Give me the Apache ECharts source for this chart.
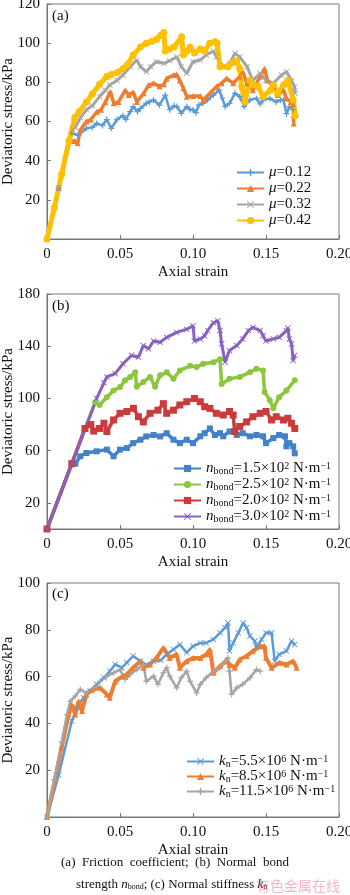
<!DOCTYPE html>
<html>
<head>
<meta charset="utf-8">
<script src="https://cdn.jsdelivr.net/npm/echarts@6.0.0/dist/echarts.min.js"></script>
<style>
html,body{margin:0;padding:0;background:#fff;}
#main{width:350px;height:895px;}
</style>
</head>
<body>
<div id="main"></div>
<script>
// (a) friction coefficient, [axial strain, deviatoric stress kPa]
var muNames = ['μ=0.12', 'μ=0.22', 'μ=0.32', 'μ=0.42'];
var mu012 = [[0,0],[0.008,26],[0.017,54],[0.0216,53],[0.027,56.5],[0.031,57],[0.034,59],[0.038,58],[0.041,61],[0.044,56.5],[0.048,61],[0.052,63],[0.054,61],[0.057,65],[0.059,67.6],[0.062,65],[0.064,66.7],[0.068,69.3],[0.070,70],[0.073,71],[0.077,68.4],[0.081,73.5],[0.084,66],[0.087,68],[0.089,67.6],[0.092,64.2],[0.0957,67.6],[0.098,66],[0.100,66],[0.102,64.5],[0.104,68.4],[0.107,69.3],[0.110,71],[0.114,73.5],[0.118,76],[0.120,72],[0.122,67.6],[0.125,69.3],[0.1287,74.4],[0.132,72.7],[0.135,67.6],[0.139,71],[0.1435,71.8],[0.146,69],[0.148,71],[0.1526,71.8],[0.157,70],[0.160,71],[0.162,71],[0.164,64],[0.166,67.6],[0.1686,66],[0.169,62]];
var mu022 = [[0,0],[0.008,26],[0.0155,50],[0.019,50],[0.021,49],[0.0228,55.7],[0.027,60],[0.030,61],[0.0342,65],[0.037,66],[0.040,70],[0.0434,75.2],[0.0457,69.3],[0.049,70],[0.0536,76],[0.056,73.5],[0.059,75],[0.0616,70],[0.0662,74.4],[0.0697,78.6],[0.073,79.5],[0.077,78],[0.080,79],[0.082,82],[0.0868,83.7],[0.0888,84],[0.091,81],[0.0934,77],[0.0957,72.7],[0.100,73],[0.105,73],[0.107,71],[0.1116,74.4],[0.116,77.8],[0.1196,79.5],[0.123,82],[0.1276,79.5],[0.132,83],[0.134,85.4],[0.137,79.5],[0.141,76],[0.146,83],[0.149,87],[0.151,81],[0.155,77.8],[0.158,73.5],[0.162,76],[0.164,71.8],[0.167,70],[0.1685,69],[0.169,59]];
var mu032 = [[0,0],[0.008,26],[0.0175,56],[0.0194,57],[0.023,62],[0.027,66],[0.031,68],[0.036,72.7],[0.040,76],[0.043,78.6],[0.048,81],[0.052,83.7],[0.057,88],[0.0615,91.4],[0.064,88],[0.068,85.4],[0.071,88],[0.075,90.5],[0.080,89.7],[0.084,91],[0.089,93],[0.092,88],[0.0957,84.6],[0.100,90.5],[0.105,91.4],[0.109,94],[0.114,96],[0.116,93],[0.121,88],[0.125,89.7],[0.1288,94.8],[0.132,93],[0.137,88],[0.141,81],[0.146,84.6],[0.150,81],[0.155,79.5],[0.1606,83.7],[0.164,85.4],[0.1675,81],[0.1695,77.8],[0.170,74.4]];
var mu042 = [[0,0],[0.005,16],[0.010,33],[0.015,50],[0.019,62],[0.022,65],[0.027,70],[0.031,74],[0.036,79],[0.041,83],[0.044,84],[0.048,85],[0.052,87],[0.055,89],[0.059,94],[0.064,98],[0.068,100],[0.072,101],[0.075,102],[0.078,104],[0.080,105.5],[0.081,96],[0.084,97],[0.087,98],[0.0922,103.3],[0.0934,94],[0.096,96],[0.098,98],[0.101,95],[0.105,97],[0.108,96],[0.1115,100],[0.115,100.7],[0.1165,100],[0.1185,88],[0.124,88],[0.127,90],[0.130,91],[0.132,87],[0.1334,77.8],[0.1355,70],[0.139,81],[0.141,78.6],[0.1445,78],[0.148,72.7],[0.153,76],[0.155,78.6],[0.158,74],[0.162,78.6],[0.165,81],[0.1686,71],[0.170,63]];

// (b) normal bond strength
var bondNames = ['1.5', '2.5', '2.0', '3.0'];
var bond15 = [[0,0],[0.017,50],[0.0194,50],[0.0228,55.7],[0.027,58.2],[0.034,59.5],[0.041,60.8],[0.0456,55.7],[0.050,60.8],[0.0547,62],[0.059,65.8],[0.064,68.4],[0.068,70.9],[0.073,72],[0.0775,70.9],[0.082,73.4],[0.0866,68.4],[0.091,65.8],[0.0957,68.4],[0.100,65.8],[0.105,71],[0.108,73.4],[0.1116,77],[0.115,72],[0.1185,73.4],[0.1207,71],[0.125,74.7],[0.130,72],[0.134,73.4],[0.139,71],[0.1435,72],[0.148,71],[0.150,65.8],[0.155,69.6],[0.159,72],[0.163,71],[0.164,63.3],[0.166,65.8],[0.1686,63.3],[0.1697,58]];
var bond25 = [[0,0],[0.017,50],[0.033,97],[0.036,95],[0.041,101],[0.0456,106],[0.050,108.7],[0.0535,114],[0.057,116.5],[0.0604,120],[0.0615,109],[0.066,112.6],[0.0706,116.5],[0.074,108.9],[0.0775,117.7],[0.082,120],[0.0866,115],[0.091,121.5],[0.098,125],[0.1025,124],[0.107,126.6],[0.114,127.8],[0.1185,130],[0.1196,111],[0.125,115],[0.132,116.5],[0.139,120],[0.1435,122.8],[0.148,121.5],[0.149,105],[0.1526,98.7],[0.155,92.4],[0.159,101],[0.164,106],[0.1697,114]];
var bond20 = [[0,0],[0.017,50],[0.026,77],[0.030,80],[0.032,75],[0.036,77],[0.039,81],[0.041,74.7],[0.0456,83.5],[0.050,88.6],[0.0547,90],[0.0592,92.4],[0.0626,86],[0.066,82],[0.0706,88.6],[0.076,91],[0.0797,96],[0.082,88.6],[0.0866,91],[0.091,95],[0.0957,97.5],[0.101,100],[0.105,97.5],[0.108,93.7],[0.1116,92.4],[0.116,88.6],[0.1207,87.3],[0.125,90],[0.1275,87.3],[0.1286,74.7],[0.132,78.5],[0.1367,82],[0.141,86],[0.146,88.6],[0.150,90],[0.1538,83.5],[0.157,86],[0.162,83.5],[0.165,84.8],[0.1675,81],[0.1697,77]];
var bond30 = [[0,0],[0.017,50],[0.034,100],[0.039,112],[0.041,116.5],[0.0467,119],[0.052,126.6],[0.058,133],[0.0626,131.6],[0.066,140.5],[0.0695,138],[0.073,144],[0.0775,143],[0.082,146.8],[0.0888,150.6],[0.0957,153],[0.100,155.7],[0.101,144],[0.105,145.6],[0.108,148],[0.110,152],[0.114,158],[0.117,159.5],[0.1185,152],[0.1196,141.8],[0.122,127.8],[0.125,136.7],[0.130,140.5],[0.134,145.6],[0.138,152],[0.141,154.4],[0.146,152],[0.148,148],[0.150,144],[0.155,145.6],[0.159,146.8],[0.164,152],[0.165,154],[0.166,145.6],[0.1675,141.8],[0.1686,129],[0.1697,133]];

// (c) normal stiffness
var knNames = ['5.5', '8.5', '11.5'];
var kn55 = [[0,0],[0.008,18],[0.017,41],[0.0205,46.7],[0.025,51],[0.0296,53.8],[0.034,56.7],[0.039,59.5],[0.043,62.3],[0.0467,65.2],[0.0513,63.8],[0.0547,66],[0.059,68.8],[0.064,66.6],[0.068,65],[0.073,66.6],[0.078,67],[0.082,69.5],[0.0866,71.6],[0.091,73.7],[0.0957,70.2],[0.100,73],[0.105,74.4],[0.109,74.4],[0.114,75.9],[0.1185,78.7],[0.122,80.9],[0.124,83],[0.125,70.9],[0.1275,74.4],[0.131,78.7],[0.1344,83],[0.1367,80.9],[0.139,77.3],[0.1424,75.2],[0.1435,72.3],[0.147,75.9],[0.150,78.7],[0.1538,78.7],[0.156,66.6],[0.159,69.5],[0.164,70.9],[0.1675,75.2],[0.1697,73.7]];
var kn85 = [[0,0],[0.010,29.6],[0.0148,43.8],[0.017,48],[0.0194,43.8],[0.0216,49.5],[0.024,45.3],[0.027,52.4],[0.031,54.5],[0.0364,55.2],[0.041,52.4],[0.043,51],[0.0467,58],[0.052,60.2],[0.0547,61],[0.059,63.8],[0.064,66.6],[0.066,63.8],[0.0706,65.2],[0.075,68],[0.0797,72.3],[0.084,68],[0.0888,69.5],[0.091,63.8],[0.0957,66.6],[0.100,68],[0.105,68],[0.1093,69.5],[0.1116,71.6],[0.114,61.6],[0.1185,64.5],[0.123,66.6],[0.125,65.2],[0.1287,63.8],[0.132,67.3],[0.1367,68.8],[0.141,70.9],[0.146,73],[0.149,73],[0.150,68],[0.1538,63.8],[0.159,65.9],[0.164,65.2],[0.1686,66.6],[0.171,63.8]];
var kn115 = [[0,0],[0.005,16],[0.010,32],[0.0137,43.8],[0.016,49.5],[0.0194,51.7],[0.0228,54.5],[0.027,53],[0.032,55.2],[0.0364,58],[0.041,60.2],[0.0456,61.6],[0.050,63],[0.0535,58.8],[0.057,61],[0.0615,63],[0.066,65.2],[0.068,58],[0.073,60.2],[0.076,56.7],[0.0797,61.6],[0.082,63.8],[0.084,60.2],[0.0888,55.2],[0.092,59.5],[0.0957,62.3],[0.098,58],[0.1025,53],[0.105,56.7],[0.109,59.5],[0.114,62.3],[0.1185,63.8],[0.122,66.6],[0.124,68],[0.125,62.3],[0.1264,52.4],[0.130,55.2],[0.134,56.7],[0.139,59.5],[0.1435,63],[0.146,62.3]];

var yTicksB = [20, 60, 100, 140, 180];

var SERIF = '"Liberation Serif","DejaVu Serif",serif';
var X_MARK = 'path://M0,1L1,0L5,4L9,0L10,1L6,5L10,9L9,10L5,6L1,10L0,9L4,5Z';
var PLUS = 'path://M4,0H6V4H10V6H6V10H4V6H0V4H4Z';
var DASH = 'path://M0,3H10V7H0Z';

var myChart = echarts.init(document.getElementById('main'));

function xAxis(idx){
    return {
        gridIndex: idx, type: 'value', min: 0, max: 0.2, interval: 0.05,
        name: 'Axial strain', nameLocation: 'middle', nameGap: 26,
        nameTextStyle: {fontFamily: SERIF, fontSize: 15, color: '#111'},
        axisLine: {lineStyle: {color: '#777'}},
        axisTick: {inside: true, length: 4, lineStyle: {color: '#777'}},
        axisLabel: {fontFamily: SERIF, fontSize: 15, color: '#111', margin: 8,
            formatter: function(v){ return v === 0 ? '0' : v.toFixed(2); }},
        splitLine: {show: false}
    };
}
function yAxis(idx, max, interval, custom){
    var ax = {
        gridIndex: idx, type: 'value', min: 0, max: max, interval: interval,
        name: 'Deviatoric stress/kPa', nameLocation: 'middle', nameGap: 31, nameMoveOverlap: false,
        nameTextStyle: {fontFamily: SERIF, fontSize: 15, color: '#111'},
        axisLine: {lineStyle: {color: '#777'}},
        axisTick: {inside: true, length: 4, lineStyle: {color: '#777'}},
        axisLabel: {fontFamily: SERIF, fontSize: 15, color: '#111', margin: 7, showMinLabel: false},
        splitLine: {show: false}
    };
    if (custom) {
        ax.axisLabel.customValues = custom;
        ax.axisLabel.showMinLabel = true;
        ax.axisTick.customValues = custom;
    }
    return ax;
}
function line(name, data, idx, color, symbol, size, width){
    return {
        name: name, type: 'line', xAxisIndex: idx, yAxisIndex: idx, data: data,
        symbol: symbol, symbolSize: size, showSymbol: true,
        itemStyle: {color: color},
        lineStyle: {color: color, width: width},
        animation: false
    };
}

var legText = {fontFamily: SERIF, fontSize: 15, color: '#111', lineHeight: 15,
    rich: {
        i: {fontFamily: SERIF, fontSize: 15, fontStyle: 'italic', color: '#111', lineHeight: 15},
        n: {fontFamily: SERIF, fontSize: 15, color: '#111', lineHeight: 15},
        s: {fontFamily: SERIF, fontSize: 10, color: '#111', verticalAlign: 'bottom', lineHeight: 10},
        p: {fontFamily: SERIF, fontSize: 10, color: '#111', verticalAlign: 'top', lineHeight: 10}
    }};

var option = {
    backgroundColor: '#fff',
    animation: false,
    grid: [
        {left: 47, top: 4, width: 292, height: 235, show: true, borderColor: '#777', borderWidth: 1, outerBoundsMode: 'none', containLabel: false},
        {left: 47, top: 294, width: 292, height: 235, show: true, borderColor: '#777', borderWidth: 1, outerBoundsMode: 'none', containLabel: false},
        {left: 47, top: 583, width: 292, height: 234, show: true, borderColor: '#777', borderWidth: 1, outerBoundsMode: 'none', containLabel: false}
    ],
    xAxis: [xAxis(0), xAxis(1), xAxis(2)],
    yAxis: [yAxis(0, 120, 20), yAxis(1, 180, 20, yTicksB), yAxis(2, 100, 20)],
    legend: [
        {data: muNames, orient: 'vertical', left: 236, top: 165, itemWidth: 27, itemHeight: 9, itemGap: 1, padding: 0,
         textStyle: legText,
         formatter: function(n){ return '{i|μ}{n|' + n.slice(1) + '}'; }},
        {data: bondNames.map(function(b){ return 'n' + b; }), orient: 'vertical', left: 173, top: 461, itemWidth: 27, itemHeight: 9, itemGap: 1, padding: 0,
         textStyle: legText,
         formatter: function(n){ return '{i|n}{s|bond}{n|=' + n.slice(1) + '×10}{p|2}{n| N·m}{p|−1}'; }},
        {data: knNames.map(function(b){ return 'k' + b; }), orient: 'vertical', left: 186, top: 754, itemWidth: 27, itemHeight: 9, itemGap: 0, padding: 0,
         textStyle: legText,
         formatter: function(n){ return '{i|k}{s|n}{n|=' + n.slice(1) + '×10}{p|6}{n| N·m}{p|−1}'; }}
    ],
    series: [
        line(muNames[0], mu012, 0, '#5b9bd5', PLUS, 6, 2.5),
        line(muNames[1], mu022, 0, '#ed7d31', 'triangle', 6, 3.5),
        line(muNames[2], mu032, 0, '#a5a5a5', X_MARK, 6, 3),
        line(muNames[3], mu042, 0, '#ffc000', 'circle', 7, 5),
        line('n' + bondNames[0], bond15, 1, '#4381c9', 'rect', 6, 3.5),
        line('n' + bondNames[1], bond25, 1, '#8cc63e', 'circle', 6, 3.5),
        line('n' + bondNames[2], bond20, 1, '#cc3b3b', DASH, 7, 3.5),
        line('n' + bondNames[3], bond30, 1, '#8861c1', X_MARK, 6, 3),
        line('k' + knNames[0], kn55, 2, '#5b9bd5', X_MARK, 6, 2.5),
        line('k' + knNames[1], kn85, 2, '#ed7d31', 'triangle', 6, 4),
        line('k' + knNames[2], kn115, 2, '#a5a5a5', PLUS, 6, 2.5)
    ],
    graphic: [
        {type: 'text', left: 52, top: 9, style: {text: '(a)', font: '15px ' + SERIF, fill: '#111'}},
        {type: 'text', left: 52, top: 299, style: {text: '(b)', font: '15px ' + SERIF, fill: '#111'}},
        {type: 'text', left: 52, top: 587, style: {text: '(c)', font: '15px ' + SERIF, fill: '#111'}},
        {type: 'text', left: 'center', top: 856, style: {
            text: '(a)  Friction  coefficient;  (b)  Normal  bond',
            font: '13px ' + SERIF, fill: '#111'}},
        {type: 'text', left: 76, top: 878, style: {
            text: 'strength {i|n}{s|bond}; (c) Normal stiffness {i|k}{s|n}',
            font: '13px ' + SERIF, fill: '#111',
            rich: {
                i: {font: 'italic 13px ' + SERIF, fill: '#111'},
                s: {font: '8px ' + SERIF, fill: '#111', verticalAlign: 'bottom', lineHeight: 11}
            }}},
        {type: 'text', left: 256, top: 879, style: {
            text: '有色金属在线', font: '14px "Noto Sans CJK SC"', fill: 'rgba(240,120,145,0.55)'}}
    ]
};
myChart.setOption(option);
</script>
</body>
</html>
